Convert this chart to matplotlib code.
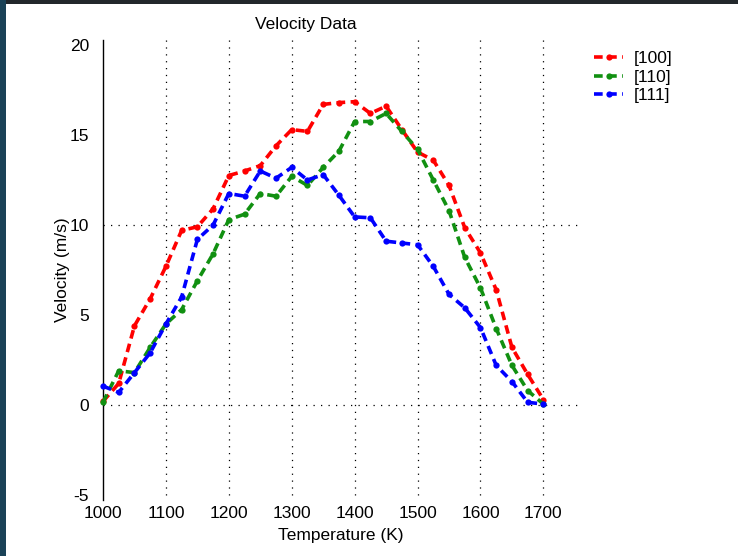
import matplotlib
matplotlib.use("Agg")
import matplotlib.pyplot as plt
from matplotlib.patches import Rectangle

plt.rcParams['font.family'] = ['Liberation Sans', 'DejaVu Sans']
plt.rcParams['axes.unicode_minus'] = False

temperature = [1000, 1025, 1050, 1075, 1100, 1125, 1150, 1175, 1200, 1225, 1250, 1275,
               1300, 1325, 1350, 1375, 1400, 1425, 1450, 1475, 1500, 1525, 1550, 1575,
               1600, 1625, 1650, 1675, 1700]
v100 = [0.2, 1.2, 4.4, 5.9, 7.7, 9.7, 9.9, 10.9, 12.75, 13.0, 13.3, 14.4,
        15.3, 15.2, 16.7, 16.8, 16.85, 16.2, 16.6, 15.3, 14.05, 13.6, 12.2, 9.85,
        8.45, 6.4, 3.2, 1.7, 0.3]
v110 = [0.15, 1.9, 1.8, 3.2, 4.5, 5.3, 6.9, 8.4, 10.3, 10.6, 11.75, 11.6,
        12.7, 12.2, 13.2, 14.1, 15.75, 15.75, 16.2, 15.2, 14.2, 12.5, 10.8, 8.2,
        6.5, 4.25, 2.2, 0.8, 0.05]
v111 = [1.05, 0.7, 1.8, 2.9, 4.5, 6.0, 9.2, 10.0, 11.75, 11.6, 13.0, 12.6,
        13.2, 12.5, 12.8, 11.65, 10.45, 10.4, 9.1, 9.0, 8.9, 7.7, 6.15, 5.4,
        4.3, 2.2, 1.3, 0.15, 0.05]
series_labels = ['[100]', '[110]', '[111]']
series_colors = ['#ff0000', '#119011', '#0000ff']
xticks = [1000, 1100, 1200, 1300, 1400, 1500, 1600, 1700]
yticks = [-5, 0, 5, 10, 15, 20]

W, H = 738, 556
FS = 12.5
fig = plt.figure(figsize=(W / 100, H / 100), dpi=100)
fig.patch.set_facecolor('white')

left, right, top, bottom = 103, 578, 45, 495
ax = fig.add_axes([left / W, 1 - bottom / H, (right - left) / W, (bottom - top) / H])
ax.set_xlim(1000, 1755)
ax.set_ylim(-5, 20)

# grid
for gx in xticks[1:]:
    ax.plot([gx, gx], [-5, 20.3], color='black', lw=0.9, ls=(0, (1, 4.5)), clip_on=False, zorder=1)
for gy in [0, 10]:
    ax.axhline(gy, color='black', lw=0.9, ls=(0, (1, 5)), zorder=1)

for vals, lab, col in zip([v100, v110, v111], series_labels, series_colors):
    ax.plot(temperature, vals, color=col, lw=2.6, ls=(0, (2.4, 1.5)), marker='o', ms=4.5,
            markeredgewidth=0, label=lab, zorder=3, clip_on=False)

for s in ['top', 'right', 'bottom']:
    ax.spines[s].set_visible(False)
ax.spines['left'].set_linewidth(1.0)
ax.spines['left'].set_bounds(-5.3, 20.3)

ax.set_xticks(xticks)
ax.set_yticks(yticks)
ax.tick_params(axis='both', length=0, labelsize=FS)
ax.tick_params(axis='x', pad=8)
ax.tick_params(axis='y', pad=10)
ax.set_xlabel('Temperature (K)', fontsize=FS, labelpad=5)
ax.set_ylabel('Velocity (m/s)', fontsize=FS, labelpad=0)

fig.text(306 / W, 1 - 25 / H, 'Velocity Data', ha='center', va='center', fontsize=FS)

leg = ax.legend(loc='upper left', bbox_to_anchor=(587 / W, 1 - 44 / H),
                bbox_transform=fig.transFigure, frameon=False, fontsize=FS,
                handlelength=1.7, handletextpad=0.6, labelspacing=0.2, borderaxespad=0)

# dark frame border
fig.patches.append(Rectangle((0, 1 - 4 / H), 1, 4 / H, transform=fig.transFigure,
                             facecolor='#22272b', edgecolor='none', zorder=10))
fig.patches.append(Rectangle((0, 0), 6 / W, 1, transform=fig.transFigure,
                             facecolor='#1a4257', edgecolor='none', zorder=10))

fig.savefig('out.png', dpi=100)
